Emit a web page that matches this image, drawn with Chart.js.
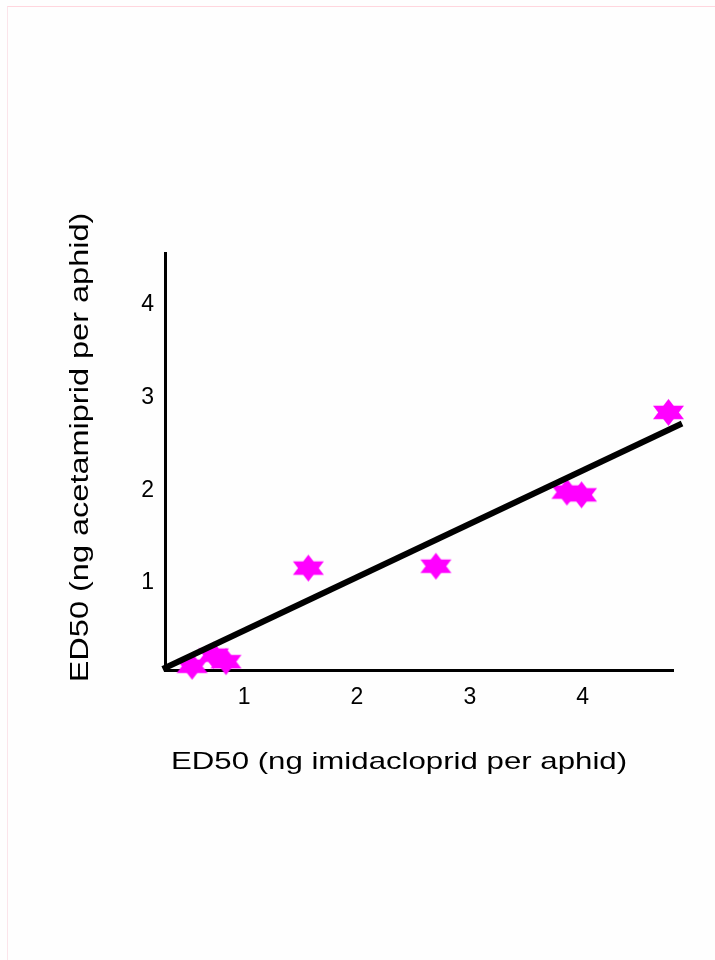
<!DOCTYPE html>
<html>
<head>
<meta charset="utf-8">
<title>ED50 imidacloprid vs acetamiprid</title>
<script src="https://cdn.jsdelivr.net/npm/chart.js@4.4.0/dist/chart.umd.min.js"></script>
<style>
    html, body { margin: 0; padding: 0; background: #fefefe; }
    #frame {
        position: absolute; left: 7px; top: 6px; width: 800px; height: 1000px;
        border-top: 1px solid #ffd6de; border-left: 1px solid #fbe4ea;
    }
    #wrap { position: absolute; left: 0; top: 0; width: 715px; height: 960px; }
</style>
</head>
<body>
<div id="frame"></div>
<div id="wrap"><canvas id="ed50Chart"></canvas></div>
<script>
// ED50 values per aphid strain (ng per aphid)
const imidacloprid = [0.54, 0.73, 0.84, 1.57, 2.70, 3.86, 3.99, 4.76];
const acetamiprid  = [0.10, 0.22, 0.15, 1.16, 1.18, 1.98, 1.95, 2.84];

// end points of the fitted line
const fitX = [0.28, 4.88];
const fitY = [0.07, 2.72];

const xTicks = [1, 2, 3, 4];
const yTicks = [1, 2, 3, 4];

const xTitle = 'ED50 (ng imidacloprid per aphid)';
const yTitle = 'ED50 (ng acetamiprid per aphid)';

const fontFamily = '"Liberation Sans", Arial, Helvetica, sans-serif';

// six pointed star used as marker
function makeStar(rx, ry, color) {
    const c = document.createElement('canvas');
    c.width = Math.ceil(rx * 2) + 2;
    c.height = Math.ceil(ry * 2) + 2;
    const g = c.getContext('2d');
    const cx = c.width / 2, cy = c.height / 2;
    g.fillStyle = color;

    g.beginPath();
    g.moveTo(cx, cy - ry);
    g.lineTo(cx + rx, cy + ry / 2);
    g.lineTo(cx - rx, cy + ry / 2);
    g.closePath();
    g.fill();

    g.beginPath();
    g.moveTo(cx, cy + ry);
    g.lineTo(cx + rx, cy - ry / 2);
    g.lineTo(cx - rx, cy - ry / 2);
    g.closePath();
    g.fill();
    return c;
}

// axis titles, a bit wider than the plain font like in the original
const axisTitles = {
    id: 'axisTitles',
    afterDraw(chart) {
        const { ctx, chartArea } = chart;
        ctx.save();
        ctx.fillStyle = '#000';
        ctx.font = '24px ' + fontFamily;
        ctx.textAlign = 'center';
        ctx.textBaseline = 'alphabetic';
        ctx.translate((chartArea.left + chartArea.right) / 2 - 20, chartArea.bottom + 99);
        ctx.scale(1.3, 1);
        ctx.fillText(xTitle, 0, 0);
        ctx.restore();

        ctx.save();
        ctx.fillStyle = '#000';
        ctx.font = '25px ' + fontFamily;
        ctx.textAlign = 'center';
        ctx.textBaseline = 'alphabetic';
        ctx.translate(chartArea.left - 77, (chartArea.top + chartArea.bottom) / 2 - 14);
        ctx.rotate(-Math.PI / 2);
        ctx.scale(1.3, 1);
        ctx.fillText(yTitle, 0, 0);
        ctx.restore();
    }
};

const points = imidacloprid.map((x, i) => ({ x: x, y: acetamiprid[i] }));
const fitLine = fitX.map((x, i) => ({ x: x, y: fitY[i] }));

const ctx = document.getElementById('ed50Chart').getContext('2d');

new Chart(ctx, {
    type: 'scatter',
    data: {
        datasets: [
            {
                label: 'fit',
                data: fitLine,
                showLine: true,
                borderColor: '#000',
                borderWidth: 6,
                borderCapStyle: 'butt',
                pointRadius: 0,
                clip: false,
                order: 0
            },
            {
                label: 'ED50',
                data: points,
                pointStyle: makeStar(15.5, 13.5, '#ff00ff'),
                clip: false,
                order: 1
            }
        ]
    },
    options: {
        responsive: true,
        maintainAspectRatio: false,
        animation: false,
        events: [],
        layout: { padding: { top: 253, right: 42, bottom: 0, left: 0 } },
        plugins: {
            legend: { display: false },
            tooltip: { enabled: false }
        },
        scales: {
            x: {
                type: 'linear',
                min: 0.3,
                max: 4.8,
                afterBuildTicks: scale => { scale.ticks = xTicks.map(v => ({ value: v })); },
                afterFit: scale => { scale.height = 290; },
                grid: { display: false, drawTicks: false },
                border: { display: true, color: '#000', width: 3 },
                ticks: { color: '#000', padding: 14, font: { size: 23, family: fontFamily } }
            },
            y: {
                type: 'linear',
                min: 0.06,
                max: 4.56,
                afterBuildTicks: scale => { scale.ticks = yTicks.map(v => ({ value: v })); },
                afterFit: scale => { scale.width = 165; },
                grid: { display: false, drawTicks: false },
                border: { display: true, color: '#000', width: 3 },
                ticks: { color: '#000', padding: 11, font: { size: 23, family: fontFamily } }
            }
        }
    },
    plugins: [axisTitles]
});
</script>
</body>
</html>
